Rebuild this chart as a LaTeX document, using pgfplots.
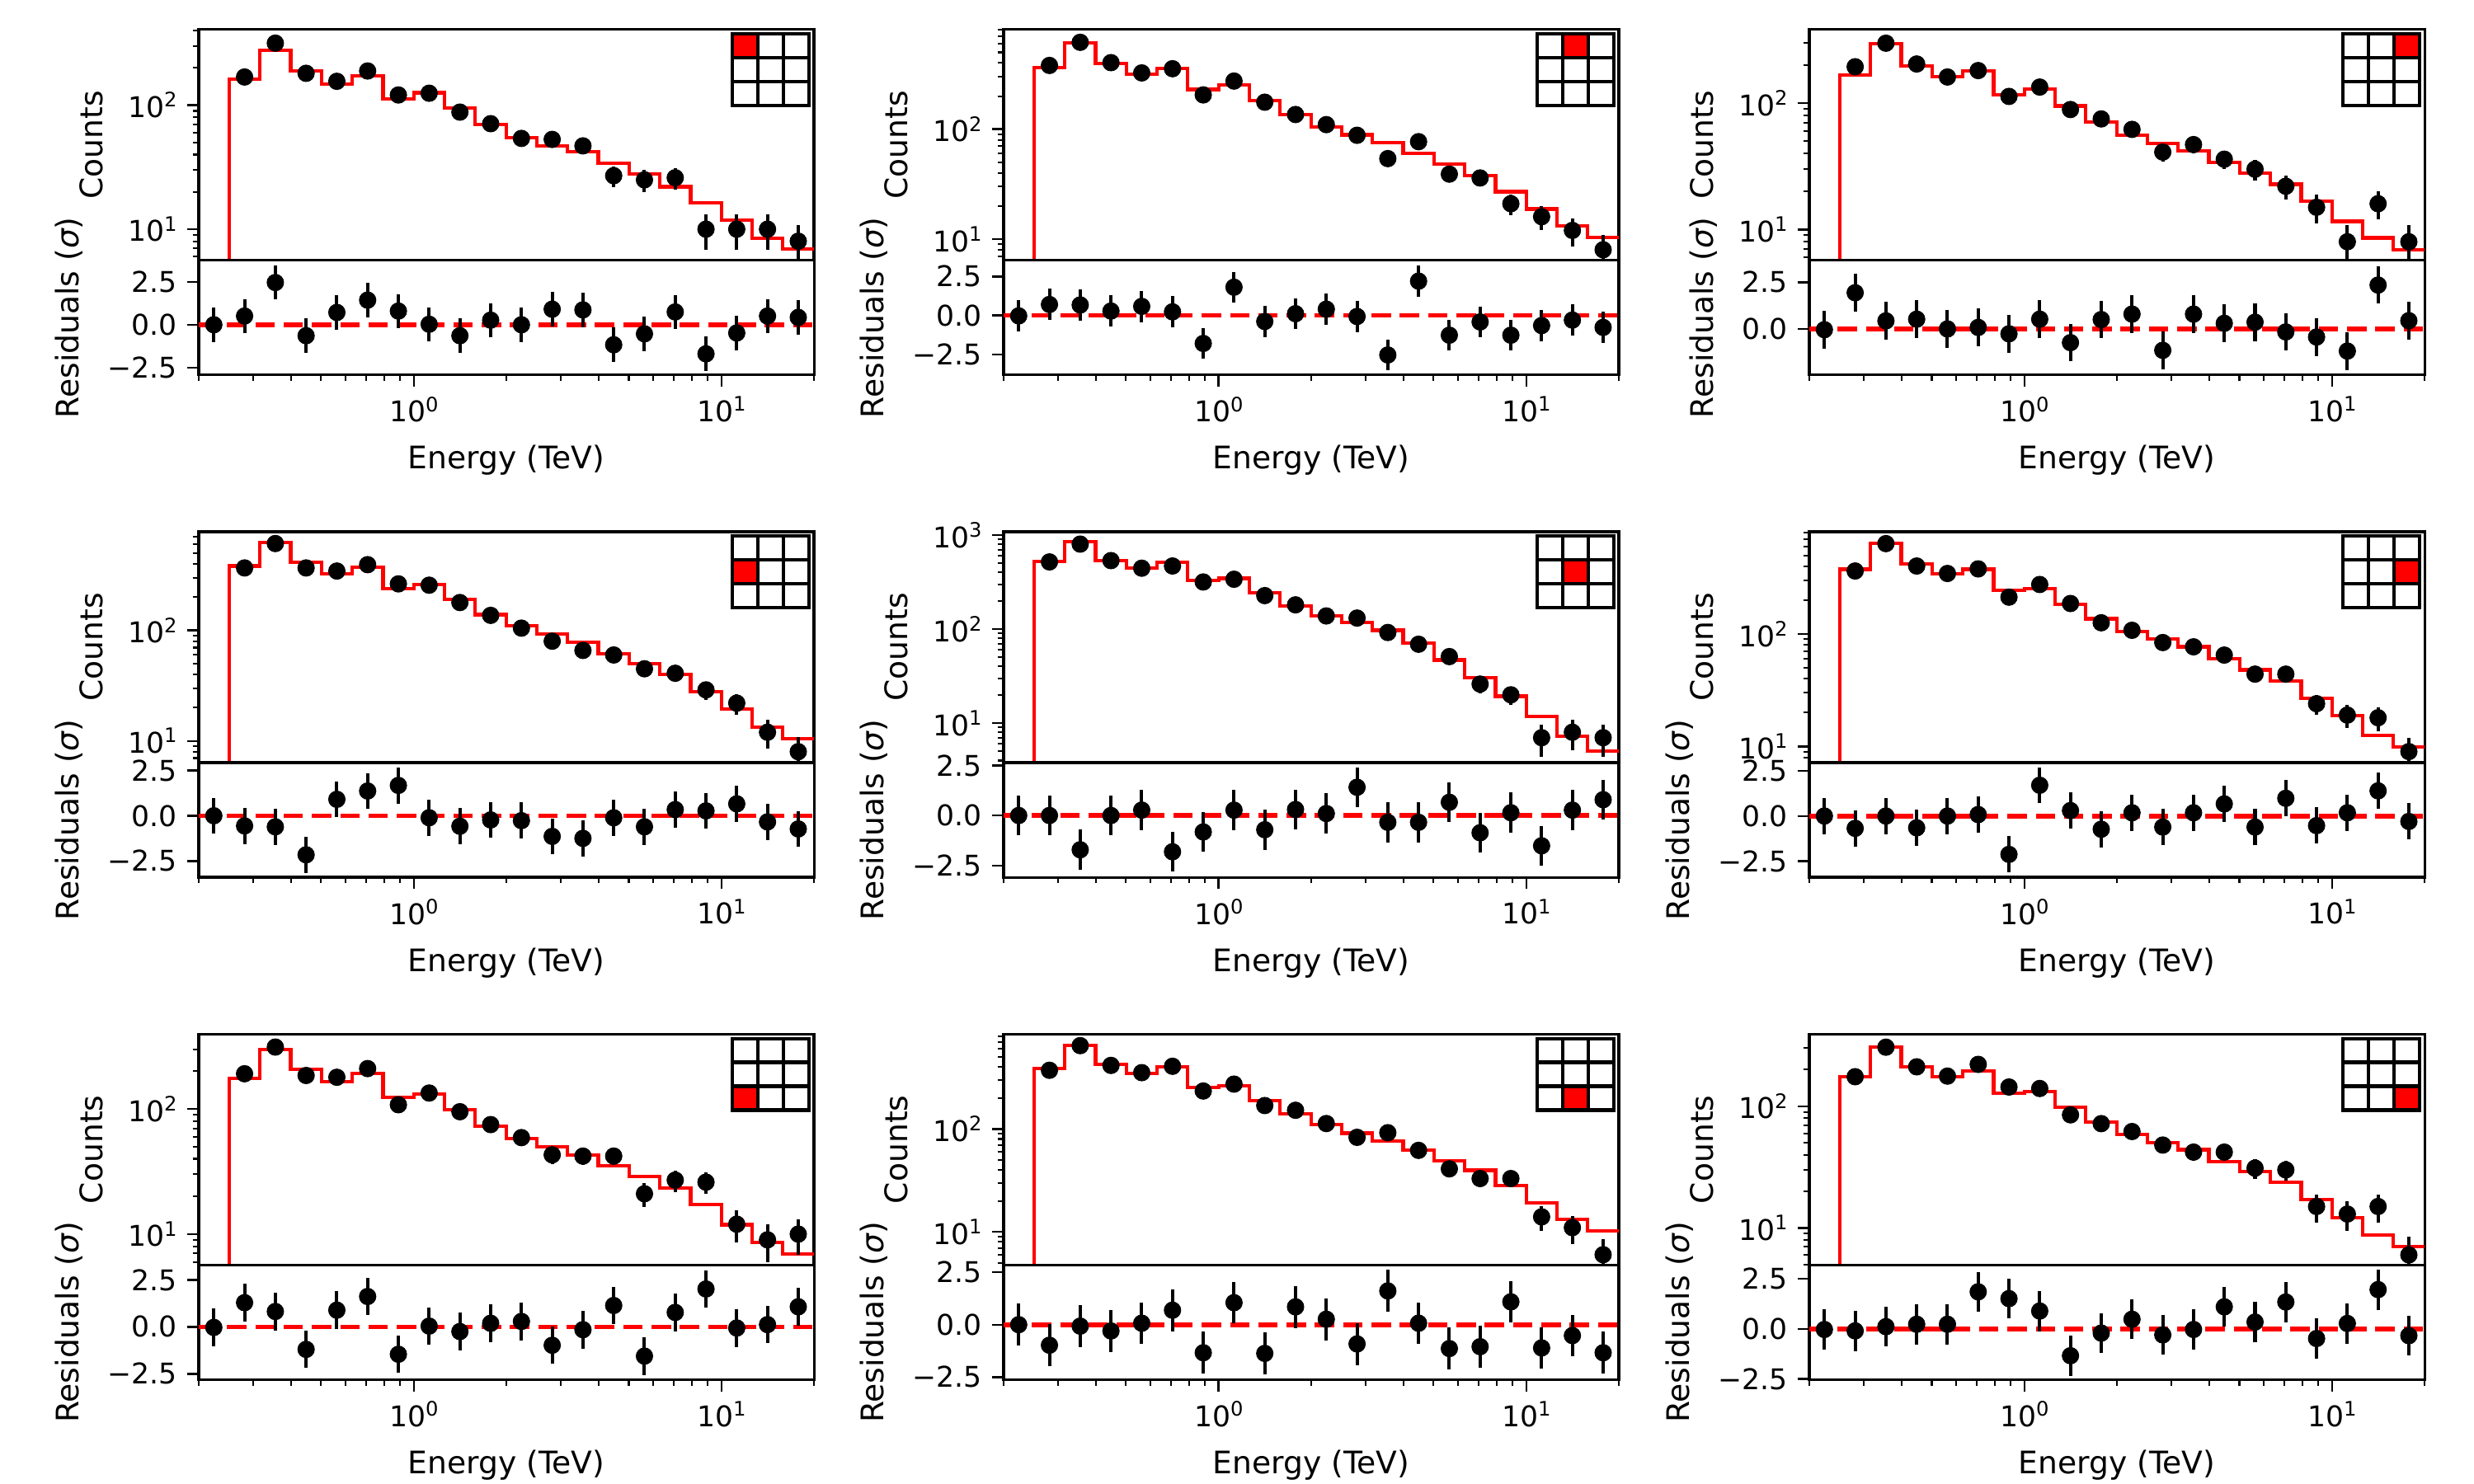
\documentclass[border=0pt]{standalone}
\usepackage{fontspec}
\setmainfont{DejaVu Sans}
\usepackage{pgfplots}
\usepackage{pgfplotstable}
\pgfplotsset{compat=1.18}

\newcommand\ff{\fontsize{12.5}{15}\selectfont}
\newcommand\fl{\fontsize{13.6}{16}\selectfont}
\newcommand\sups[1]{\raisebox{0.37em}{\fontsize{8.75}{10}\selectfont #1}}
\newcommand\reslabel{\pgfmathparse{\tick<-0.01}\ifnum\pgfmathresult=1 −\fi\pgfmathparse{abs(\tick)}\pgfmathprintnumber[fixed,fixed zerofill,precision=1,assume math mode=true]{\pgfmathresult}}

\pgfplotstableread{
x n1 n2 n3 n4 n5 n6 n7 n8 n9
0.28184 169 380 194 368 518 364 191 372 175
0.35481 317 617 298 612 801 638 312 646 306
0.44668 181 403 204 368 535 403 185 415 211
0.56234 156 325 161 345 444 346 179 353 177
0.70795 189 355 181 394 469 380 210 407 221
0.89125 121 205 113 264 317 213 108 234 144
1.12202 125 274 134 257 339 276 134 273 140
1.41254 88 176 89 179 227 187 95 169 85
1.77828 71 136 75 137 181 126 75 152 72
2.23872 54 110 62 105 138 108 59 113 62
2.81838 53 88 41 80 131 84 43 83 48
3.54813 47 54 47 66 92 77 42 92 42
4.46684 27 77 36 60 69 65 42 62 42
5.62341 25 39 30 45 51 44 21 41 31
7.07946 26 36 22 41 26 44 27 33 30
8.91251 10 21 15 29 20 24 26 33 15
11.2202 10 16 8 22 7 19 12 14 13
14.1254 10 12 16 12 8 18 9 11 15
17.7828 8 8 8 8 7 9 10 6 6
}\counts

\pgfplotstableread{
e m1 m2 m3 m4 m5 m6 m7 m8 m9
0.25119 0.001 0.001 0.001 0.001 0.001 0.001 0.001 0.001 0.001
0.25119 162 365 167 383 525 377 175 390 176
0.31623 279 606 295 622 857 638 297 646 306
0.39811 189 398 196 417 535 421 206 428 211
0.50119 149 316 161 326 444 344 166 349 175
0.63096 173 355 180 372 511 377 191 402 194
0.79433 112 230 117 238 328 246 124 252 128
1.00000 126 251 130 259 346 253 132 261 132
1.25893 95 183 95 191 244 183 98 188 98
1.58489 70 135 71 139 177 137 73 140 74
1.99526 55 105 56 110 138 106 58 110 58.5
2.51189 47 89 48 93 117 90 50 91 50
3.16228 42 76 42 78 97 77 43 77 44
3.98107 34 60 34 61.5 71 60 35 62 35
5.01187 28 48 28 49.8 47 48 28.7 49 29
6.30957 22 38 22.8 40 30.5 38 23.3 39.7 23.6
7.94328 16.3 27 16.7 28 19.3 26.9 17.2 28 17
10.0000 11.8 18.8 11.6 19.6 11.8 18.7 11.9 19 12.1
12.5893 8.4 13.1 8.6 13.3 7.3 12.6 8.6 13.2 8.7
15.8489 6.9 10.3 6.9 10.5 5.05 9.9 6.9 10.3 7.0
19.9526 6.9 10.3 6.9 10.5 5.05 9.9 6.9 10.3 7.0
}\model

\pgfplotstableread{
x r1 r2 r3 r4 r5 r6 r7 r8 r9
0.22387 0.0 -0.03 -0.03 0 0 0 -0.03 0 -0.03
0.28184 0.51 0.70 1.94 -0.56 0 -0.68 1.29 -0.98 -0.10
0.35481 2.47 0.67 0.44 -0.61 -1.71 0 0.82 -0.07 0.11
0.44668 -0.64 0.28 0.53 -2.16 0 -0.65 -1.20 -0.30 0.23
0.56234 0.72 0.58 0.01 0.91 0.27 0 0.89 0.07 0.23
0.70795 1.44 0.23 0.09 1.37 -1.81 0.08 1.62 0.69 1.85
0.89125 0.80 -1.80 -0.25 1.68 -0.82 -2.12 -1.46 -1.34 1.51
1.12202 0.03 1.81 0.53 -0.11 0.27 1.70 0.04 1.05 0.89
1.41254 -0.64 -0.39 -0.72 -0.58 -0.71 0.30 -0.25 -1.37 -1.34
1.77828 0.27 0.11 0.51 -0.23 0.30 -0.73 0.19 0.85 -0.21
2.23872 0.0 0.40 0.80 -0.27 0.10 0.18 0.29 0.26 0.48
2.81838 0.91 -0.07 -1.13 -1.14 1.41 -0.61 -0.98 -0.92 -0.30
3.54813 0.87 -2.54 0.80 -1.25 -0.34 0.18 -0.15 1.61 -0.03
4.46684 -1.17 2.20 0.31 -0.11 -0.34 0.67 1.14 0.07 1.10
5.62341 -0.53 -1.27 0.37 -0.61 0.66 -0.61 -1.56 -1.14 0.34
7.07946 0.75 -0.42 -0.15 0.34 -0.86 0.98 0.77 -1.05 1.34
8.91251 -1.70 -1.27 -0.42 0.27 0.14 -0.53 2.02 1.09 -0.48
11.2202 -0.48 -0.65 -1.17 0.66 -1.51 0.18 -0.06 -1.11 0.27
14.1254 0.51 -0.30 2.35 -0.34 0.27 1.39 0.12 -0.52 1.96
17.7828 0.43 -0.77 0.45 -0.73 0.79 -0.30 1.07 -1.34 -0.34
}\resid

\newcommand\icon[4]{%
\begin{scope}[shift={({#1+269.57pt},{-#2})}]
\fill[white] (-35.90pt,-1.92pt) rectangle (-2.28pt,-33.30pt);
\fill[red] ({-35.90pt+(#4-1)*11.207pt},{-1.92pt-(#3-1)*10.46pt}) rectangle ++(11.207pt,-10.46pt);
\draw[line width=1.5pt] (-35.90pt,-1.92pt) rectangle (-2.28pt,-33.30pt);
\draw[line width=1.5pt] (-24.69pt,-1.92pt) -- (-24.69pt,-33.30pt)
  (-13.49pt,-1.92pt) -- (-13.49pt,-33.30pt)
  (-35.90pt,-12.38pt) -- (-2.28pt,-12.38pt)
  (-35.90pt,-22.84pt) -- (-2.28pt,-22.84pt);
\end{scope}}

\newcommand\panel[9]{%
\begin{axis}[xmode=log, ymode=log, log basis x=10, log basis y=10,
  scale only axis, width=269.57pt, height=101.18pt,
  xmin=0.2, xmax=20, ymin=#4, ymax=#5,
  at={(#1,-#2)}, anchor=north west,
  tick align=outside, tick pos=left,
  axis line style={line width=1.1pt},
  major tick length=5.2pt, minor tick length=2.65pt,
  every tick/.style={black, line width=0.9pt},
  every minor tick/.append style={line width=0.75pt},
  tick label style={font=\ff}, label style={font=\fl},
  ylabel style={yshift=2.5pt},
  xtick=\empty,
  ytick={10,100,1000}, yticklabels={10\sups{1},10\sups{2},10\sups{3}},
  minor ytick={2,3,4,5,6,7,8,9,20,30,40,50,60,70,80,90,200,300,400,500,600,700,800,900},
  ylabel={Counts}]
\addplot[red, line width=1.5pt, const plot] table[x=e, y=m#3]{\model};
\addplot[black, only marks, mark=*, mark size=3.6pt,
  error bars/.cd, y dir=both, y explicit,
  error bar style={line width=1.45pt, black}, error mark=none]
  table[x=x, y=n#3, y error expr=sqrt(\thisrow{n#3})]{\counts};
\end{axis}
\icon{#1}{#2}{#8}{#9}
\begin{axis}[xmode=log, log basis x=10,
  scale only axis, width=269.57pt, height=50.23pt,
  xmin=0.2, xmax=20, ymin=#6, ymax=#7,
  at={(#1,-#2-101.18pt)}, anchor=north west,
  tick align=outside, tick pos=left,
  axis line style={line width=1.1pt},
  major tick length=5.2pt, minor tick length=2.65pt,
  every tick/.style={black, line width=0.9pt},
  every minor tick/.append style={line width=0.75pt},
  tick label style={font=\ff}, label style={font=\fl},
  ylabel style={yshift=2.5pt}, xlabel style={yshift=-1.5pt},
  xtick={1,10}, xticklabels={10\sups{0},10\sups{1}},
  minor xtick={0.2,0.3,0.4,0.5,0.6,0.7,0.8,0.9,2,3,4,5,6,7,8,9,20},
  ytick={-2.5,0,2.5}, yticklabel={\reslabel},
  xlabel={Energy (TeV)}, ylabel={Residuals ({\itshape σ})}]
\addplot[red, line width=2.1pt, dash pattern=on 8.5pt off 3.9pt] coordinates {(0.2,0) (20,0)};
\addplot[black, only marks, mark=*, mark size=3.6pt,
  error bars/.cd, y dir=both, y fixed=1,
  error bar style={line width=1.45pt, black}, error mark=none]
  table[x=x, y=r#3]{\resid};
\end{axis}}

\begin{document}
\ff
\begin{tikzpicture}
\useasboundingbox (0,0) rectangle (1084.05pt,-650.43pt);
\panel{87.09pt}{12.90pt}{1}{5.61}{409}{-2.93}{3.77}{1}{1}
\panel{439.76pt}{12.90pt}{2}{6.42}{808}{-3.82}{3.54}{1}{2}
\panel{792.80pt}{12.90pt}{3}{5.71}{383}{-2.44}{3.67}{1}{3}
\panel{87.09pt}{233.07pt}{4}{6.37}{782}{-3.40}{2.94}{2}{1}
\panel{439.76pt}{233.07pt}{5}{3.80}{1084}{-3.08}{2.64}{2}{2}
\panel{792.80pt}{233.07pt}{6}{7.18}{813}{-3.38}{2.95}{2}{3}
\panel{87.09pt}{453.24pt}{7}{5.67}{396}{-2.81}{3.30}{3}{1}
\panel{439.76pt}{453.24pt}{8}{4.77}{836}{-2.62}{2.85}{3}{2}
\panel{792.80pt}{453.24pt}{9}{4.96}{392}{-2.53}{3.19}{3}{3}
\end{tikzpicture}
\end{document}
